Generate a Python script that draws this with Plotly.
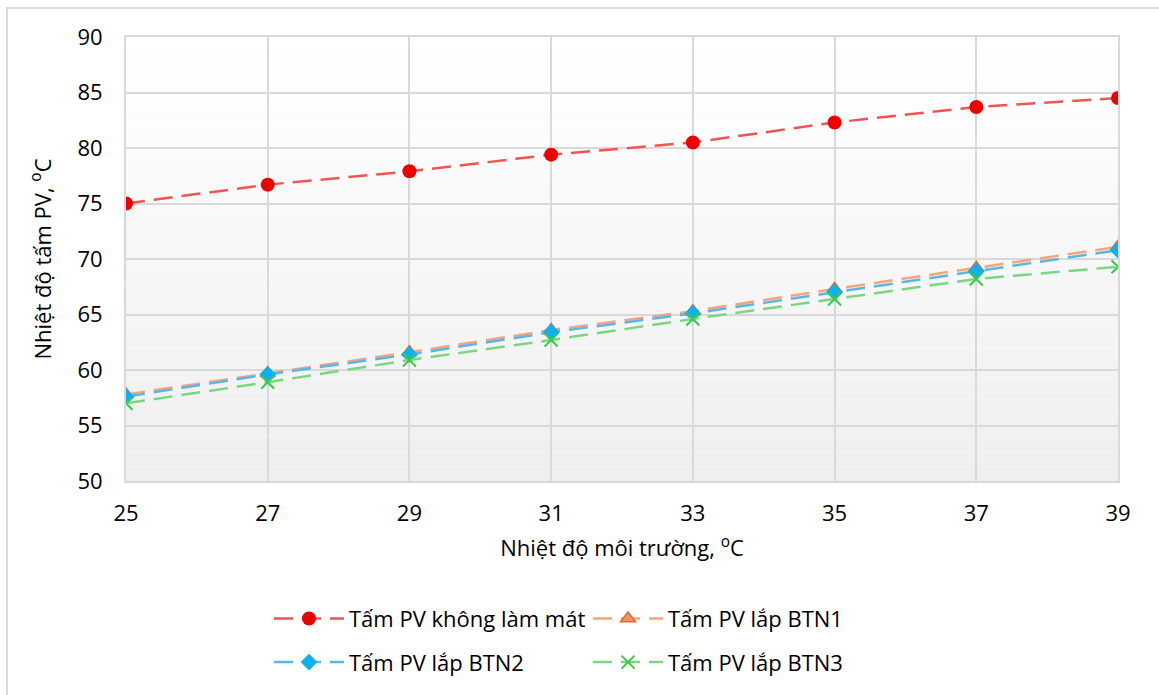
import plotly.graph_objects as go

x_vals = [25, 27, 29, 31, 33, 35, 37, 39]
no_cool = [75.0, 76.7, 77.9, 79.4, 80.5, 82.3, 83.7, 84.5]
btn1 = [57.8, 59.7, 61.6, 63.6, 65.3, 67.3, 69.2, 71.1]
btn2 = [57.6, 59.6, 61.4, 63.4, 65.1, 67.0, 68.9, 70.8]
btn3 = [57.0, 58.9, 60.9, 62.7, 64.6, 66.4, 68.2, 69.3]
names = ["Tấm PV không làm mát", "Tấm PV lắp BTN1", "Tấm PV lắp BTN2", "Tấm PV lắp BTN3"]

FONT = "Open Sans"
FS = 22
dash = "19px,9px"

fig = go.Figure()
fig.add_trace(go.Scatter(x=x_vals, y=no_cool, name=names[0], mode="lines+markers",
                         line=dict(color="#f25353", width=2.5, dash=dash),
                         marker=dict(symbol="circle", size=14, color="#ee0000"),
                         legend="legend", legendgroup="a"))
fig.add_trace(go.Scatter(x=x_vals, y=btn1, name=names[1], mode="lines+markers",
                         line=dict(color="#f4a57a", width=2.5, dash=dash),
                         marker=dict(symbol="triangle-up", size=13, color="#f0926a",
                                     line=dict(color="#e8642a", width=1.5)),
                         legend="legend2", legendgroup="b"))
fig.add_trace(go.Scatter(x=x_vals, y=btn2, name=names[2], mode="lines+markers",
                         line=dict(color="#5ab6e6", width=2.5, dash=dash),
                         marker=dict(symbol="diamond", size=13, color="#0fb0f0"),
                         legend="legend", legendgroup="c"))
fig.add_trace(go.Scatter(x=x_vals, y=btn3, name=names[3], mode="lines+markers",
                         line=dict(color="#78d882", width=2.5, dash=dash),
                         marker=dict(symbol="x-thin", size=13, color="#3cc84a",
                                     line=dict(color="#3cc84a", width=2)),
                         legend="legend2", legendgroup="d"))

# gradient plot background
n = 30
shapes = []
for i in range(n):
    t = (i + 0.5) / n
    v = int(round(255 - (255 - 239) * (1 - t)))
    shapes.append(dict(type="rect", xref="x domain", yref="y domain",
                       x0=0, x1=1, y0=i / n, y1=(i + 1) / n, layer="below",
                       fillcolor=f"rgb({v},{v},{v})", line=dict(width=0)))
# outer chart border
shapes.append(dict(type="rect", xref="paper", yref="paper",
                   x0=(7 - 126) / 992, x1=1.2, y0=-1.0, y1=1 + (37 - 8) / 445,
                   line=dict(color="#d9d9d9", width=2), fillcolor="rgba(0,0,0,0)", layer="below"))

legend_common = dict(orientation="v", font=dict(family=FONT, size=FS, color="#000"),
                     bgcolor="rgba(0,0,0,0)", tracegroupgap=12,
                     xanchor="left", yanchor="top", itemwidth=70)

fig.update_layout(
    width=1159, height=695,
    margin=dict(l=126, r=41, t=37, b=213),
    paper_bgcolor="white", plot_bgcolor="white",
    font=dict(family=FONT, size=FS, color="#000"),
    shapes=shapes,
    legend=dict(**legend_common, x=(269 - 126) / 992, y=-0.26),
    legend2=dict(**legend_common, x=(588 - 126) / 992, y=-0.26),
    xaxis=dict(range=[25, 39], tickvals=x_vals, ticktext=[str(v) for v in x_vals],
               showgrid=True, gridcolor="#d9d9d9", gridwidth=2,
               showline=True, linecolor="#d9d9d9", linewidth=2, mirror=True,
               zeroline=False, ticks="", ticklabelstandoff=12,
               tickfont=dict(family=FONT, size=FS),
               title=dict(text="Nhiệt độ môi trường, <sup>o</sup>C", standoff=14,
                          font=dict(family=FONT, size=FS))),
    yaxis=dict(range=[50, 90], dtick=5,
               showgrid=True, gridcolor="#d9d9d9", gridwidth=2,
               showline=True, linecolor="#d9d9d9", linewidth=2, mirror=True,
               zeroline=False, ticks="", ticklabelstandoff=17,
               tickfont=dict(family=FONT, size=FS),
               title=dict(text="Nhiệt độ tấm PV, <sup>o</sup>C", standoff=20,
                          font=dict(family=FONT, size=FS))),
)

fig.write_html("out.html", config={"displayModeBar": False},
               post_script="document.body.style.margin='0';")
